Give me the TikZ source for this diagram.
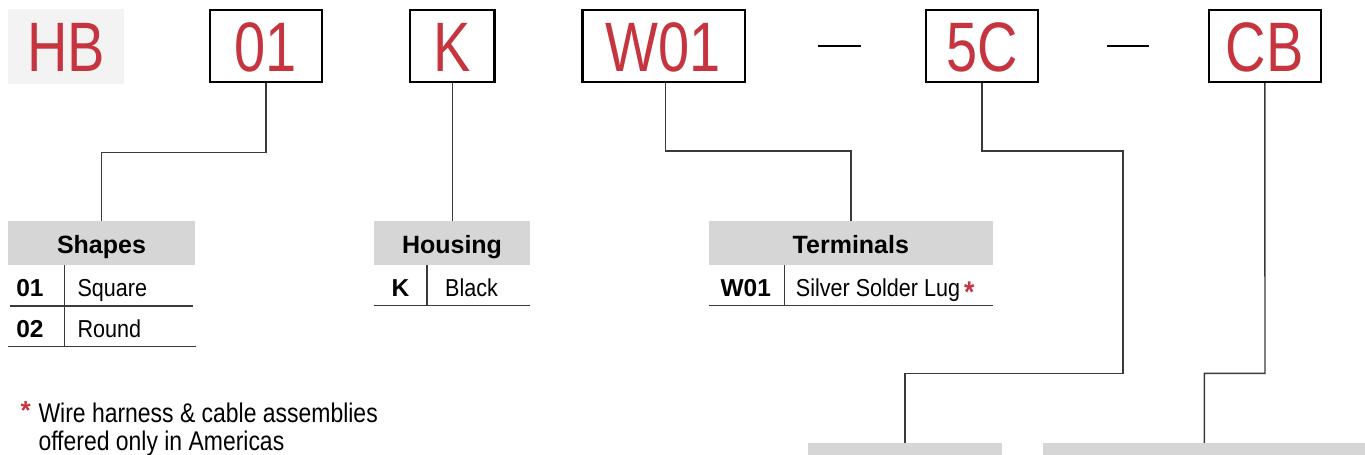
\documentclass[tikz,border=0pt]{standalone}
\usepackage{fontspec}
\setmainfont{Liberation Sans}
\newfontfamily\bigfont[FakeStretch=0.8]{Liberation Sans}
\newfontfamily\rowfont[FakeStretch=0.88]{Liberation Sans}
\newfontfamily\notefont[FakeStretch=0.85]{Liberation Sans}
\definecolor{pnred}{HTML}{C6343F}
\definecolor{hdrgray}{HTML}{D6D6D6}
\definecolor{hbgray}{HTML}{F3F3F3}
\definecolor{linegray}{HTML}{3A3A3A}
\begin{document}
\begin{tikzpicture}[x=1pt,y=-1pt,
  codebox/.style={draw=black, line width=2.2pt, inner sep=0pt, minimum height=71.4pt,
    text height=50pt, text depth=-2pt, text=pnred, font=\bigfont\fontsize{70}{80}\selectfont},
  hbbox/.style={fill=hbgray, inner sep=0pt, minimum width=116pt, minimum height=75pt,
    text height=50pt, text depth=-2pt, text=pnred, font=\bigfont\fontsize{70}{80}\selectfont},
  conn/.style={draw=linegray, line width=1.4pt},
  rule/.style={draw=linegray, line width=1.4pt},
  hdr/.style={fill=hdrgray, inner sep=0pt, minimum height=43.7pt, text height=20.9pt,
    text depth=0pt, font=\bfseries\fontsize{25}{30}\selectfont},
  bar/.style={fill=hdrgray, inner sep=0pt, minimum height=43.7pt},
  codetxt/.style={anchor=base, inner sep=0pt, font=\bfseries\fontsize{24.5}{29}\selectfont},
  desctxt/.style={anchor=base west, inner sep=0pt, font=\rowfont\fontsize{24.5}{29}\selectfont},
  dashline/.style={draw=black, line width=2pt}
]
\useasboundingbox (0,0) rectangle (1365,455);
\clip (0,0) rectangle (1365,455);

% part number boxes
\node[hbbox] (hb) at (66,46.5) {HB};
\node[codebox, minimum width=111.8pt] (b01) at (266,46) {01};
\node[codebox, minimum width=84.5pt] (bK) at (452.3,46) {K};
\node[codebox, minimum width=162.2pt] (bW) at (663.5,46) {W01};
\node[codebox, minimum width=112.1pt] (b5C) at (981.8,46) {5C};
\node[codebox, minimum width=112.1pt] (bCB) at (1264.8,46) {CB};

\draw[dashline] (818,46) -- (861,46);
\draw[dashline] (1107,46) -- (1149,46);

% table headers
\node[hdr, minimum width=187pt] (shapes) at (101.5,242.85) {Shapes};
\node[hdr, minimum width=156pt] (housing) at (452,242.85) {Housing};
\node[hdr, minimum width=283.7pt] (terminals) at (850.85,242.85) {Terminals};
\node[bar, minimum width=193.7pt] (bar1) at (904.85,464.85) {};
\node[bar, minimum width=322pt] (bar2) at (1204.3,464.85) {};

% connectors
\coordinate (k5) at (1123,373.3);
\coordinate (kCB) at (1265,373.3);
\draw[conn] (b01.south) -- ++(0,69.6) -| (shapes.north);
\draw[conn] (bK.south) -- (bK.south |- housing.north);
\draw[conn] ([xshift=2pt]bW.south) -- ++(0,68) -| (terminals.north);
\draw[conn] (b5C.south) -- ++(0,68) -| (k5) -| (bar1.north);
\draw[conn] (bCB.south) -- (kCB) -| (bar2.north);

% Shapes table
\draw[rule] (64.3,264.7) -- (64.3,346.7);
\draw[rule] (10,306) -- (193.3,306);
\draw[rule] (8,346.7) -- (196,346.7);
\node[codetxt] (s01) at (30,296.7) {01};
\node[desctxt] (sq) at (77.3,296.7) {Square};
\node[codetxt] (s02) at (30,337.3) {02};
\node[desctxt] (rd) at (77.3,337.3) {Round};

% Housing table
\draw[rule] (427,264.7) -- (427,305.3);
\draw[rule] (374,305.3) -- (530,305.3);
\node[codetxt] (hK) at (400.5,296.7) {K};
\node[desctxt] (hblack) at (445,296.7) {Black};

% Terminals table
\draw[rule] (784.3,264.7) -- (784.3,305.3);
\draw[rule] (709,305.3) -- (992.7,305.3);
\node[codetxt] (tW) at (745.7,296.7) {W01};
\node[desctxt] (tlug) at (795.7,296.7) {Silver Solder Lug\,\textcolor{pnred}{\bfseries\fontsize{30}{30}\selectfont\raisebox{-6pt}{*}}};

% footnote
\node[anchor=base west, inner sep=0pt, text=pnred, font=\bfseries\fontsize{26}{26}\selectfont] (ast) at (20.5,419.5) {*};
\node[anchor=base west, inner sep=0pt, align=left, font=\notefont\fontsize{27}{28}\selectfont] (note) at (38.3,450.7) {Wire harness \& cable assemblies\\offered only in Americas};
\end{tikzpicture}
\end{document}
